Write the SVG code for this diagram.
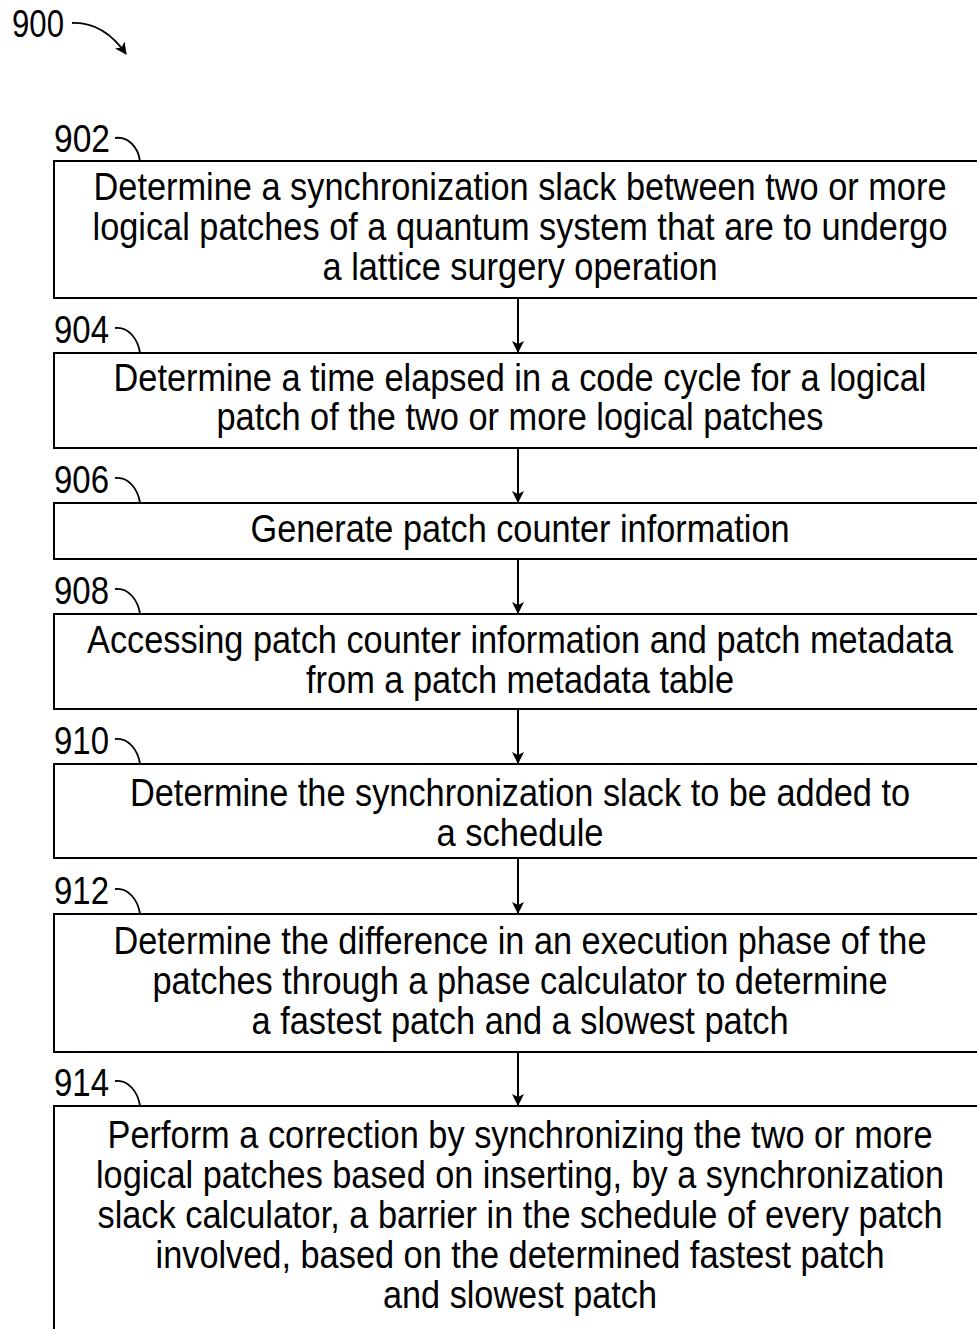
<svg xmlns="http://www.w3.org/2000/svg" width="977" height="1329" viewBox="0 0 977 1329">
  <defs>
    <marker id="arrow" viewBox="0 0 12 12" refX="11" refY="6" markerWidth="12" markerHeight="12" markerUnits="userSpaceOnUse" orient="auto">
      <path d="M0,0 L12,6 L0,12 L3,6 Z" fill="#000"/>
    </marker>
    <style>
      .box { fill: #fff; stroke: #000; stroke-width: 2; }
      .txt { font-family: "Liberation Sans", Arial, sans-serif; font-size: 34px; fill: #000; text-anchor: middle; }
      .ref { font-family: "Liberation Sans", Arial, sans-serif; font-size: 34px; fill: #000; }
      .lead { fill: none; stroke: #000; stroke-width: 1.8; }
      .conn { fill: none; stroke: #000; stroke-width: 2; marker-end: url(#arrow); }
    </style>
  </defs>
  <rect width="977" height="1329" fill="#fff"/>

  <!-- figure number -->
  <g id="fig900">
    <text class="ref" transform="translate(12,37) scale(1,1.12)" textLength="52" lengthAdjust="spacingAndGlyphs">900</text>
    <path class="lead" d="M72,23 C95,22 112,34 126,54" marker-end="url(#arrow)"/>
  </g>

  <!-- connectors between steps -->
  <g id="connectors">
    <line class="conn" x1="518" y1="299" x2="518" y2="352"/>
    <line class="conn" x1="518" y1="448" x2="518" y2="502"/>
    <line class="conn" x1="518" y1="559" x2="518" y2="613"/>
    <line class="conn" x1="518" y1="709" x2="518" y2="763"/>
    <line class="conn" x1="518" y1="858" x2="518" y2="913"/>
    <line class="conn" x1="518" y1="1052" x2="518" y2="1105"/>
  </g>

  <g id="step902">
    <text class="ref" transform="translate(54,152) scale(1,1.12)" textLength="56" lengthAdjust="spacingAndGlyphs">902</text>
    <path class="lead" d="M115,138 C128,136 138,147 140,161"/>
    <rect class="box" x="54" y="161" width="925" height="137"/>
    <text class="txt" transform="translate(520,200) scale(1,1.12)" textLength="853" lengthAdjust="spacingAndGlyphs">Determine a synchronization slack between two or more</text>
    <text class="txt" transform="translate(520,240) scale(1,1.12)" textLength="855" lengthAdjust="spacingAndGlyphs">logical patches of a quantum system that are to undergo</text>
    <text class="txt" transform="translate(520,280) scale(1,1.12)" textLength="395" lengthAdjust="spacingAndGlyphs">a lattice surgery operation</text>
  </g>

  <g id="step904">
    <text class="ref" transform="translate(54,343) scale(1,1.12)" textLength="55" lengthAdjust="spacingAndGlyphs">904</text>
    <path class="lead" d="M115,328 C128,326 138,339 140,353"/>
    <rect class="box" x="54" y="353" width="925" height="95"/>
    <text class="txt" transform="translate(520,391) scale(1,1.12)" textLength="813" lengthAdjust="spacingAndGlyphs">Determine a time elapsed in a code cycle for a logical</text>
    <text class="txt" transform="translate(520,430) scale(1,1.12)" textLength="607" lengthAdjust="spacingAndGlyphs">patch of the two or more logical patches</text>
  </g>

  <g id="step906">
    <text class="ref" transform="translate(54,493) scale(1,1.12)" textLength="55" lengthAdjust="spacingAndGlyphs">906</text>
    <path class="lead" d="M115,478 C128,476 138,489 140,503"/>
    <rect class="box" x="54" y="503" width="925" height="56"/>
    <text class="txt" transform="translate(520,542) scale(1,1.12)" textLength="539" lengthAdjust="spacingAndGlyphs">Generate patch counter information</text>
  </g>

  <g id="step908">
    <text class="ref" transform="translate(54,604) scale(1,1.12)" textLength="55" lengthAdjust="spacingAndGlyphs">908</text>
    <path class="lead" d="M115,589 C128,587 138,600 140,614"/>
    <rect class="box" x="54" y="614" width="925" height="95"/>
    <text class="txt" transform="translate(520,653) scale(1,1.12)" textLength="866" lengthAdjust="spacingAndGlyphs">Accessing patch counter information and patch metadata</text>
    <text class="txt" transform="translate(520,693) scale(1,1.12)" textLength="428" lengthAdjust="spacingAndGlyphs">from a patch metadata table</text>
  </g>

  <g id="step910">
    <text class="ref" transform="translate(54,754) scale(1,1.12)" textLength="55" lengthAdjust="spacingAndGlyphs">910</text>
    <path class="lead" d="M115,739 C128,737 138,750 140,764"/>
    <rect class="box" x="54" y="764" width="925" height="94"/>
    <text class="txt" transform="translate(520,806) scale(1,1.12)" textLength="780" lengthAdjust="spacingAndGlyphs">Determine the synchronization slack to be added to</text>
    <text class="txt" transform="translate(520,846) scale(1,1.12)" textLength="167" lengthAdjust="spacingAndGlyphs">a schedule</text>
  </g>

  <g id="step912">
    <text class="ref" transform="translate(54,904) scale(1,1.12)" textLength="55" lengthAdjust="spacingAndGlyphs">912</text>
    <path class="lead" d="M115,889 C128,887 138,900 140,914"/>
    <rect class="box" x="54" y="914" width="925" height="138"/>
    <text class="txt" transform="translate(520,954) scale(1,1.12)" textLength="813" lengthAdjust="spacingAndGlyphs">Determine the difference in an execution phase of the</text>
    <text class="txt" transform="translate(520,994) scale(1,1.12)" textLength="735" lengthAdjust="spacingAndGlyphs">patches through a phase calculator to determine</text>
    <text class="txt" transform="translate(520,1034) scale(1,1.12)" textLength="537" lengthAdjust="spacingAndGlyphs">a fastest patch and a slowest patch</text>
  </g>

  <g id="step914">
    <text class="ref" transform="translate(54,1096) scale(1,1.12)" textLength="55" lengthAdjust="spacingAndGlyphs">914</text>
    <path class="lead" d="M115,1081 C128,1079 138,1092 140,1106"/>
    <rect class="box" x="54" y="1106" width="925" height="260"/>
    <text class="txt" transform="translate(520,1148) scale(1,1.12)" textLength="825" lengthAdjust="spacingAndGlyphs">Perform a correction by synchronizing the two or more</text>
    <text class="txt" transform="translate(520,1188) scale(1,1.12)" textLength="848" lengthAdjust="spacingAndGlyphs">logical patches based on inserting, by a synchronization</text>
    <text class="txt" transform="translate(520,1228) scale(1,1.12)" textLength="845" lengthAdjust="spacingAndGlyphs">slack calculator, a barrier in the schedule of every patch</text>
    <text class="txt" transform="translate(520,1268) scale(1,1.12)" textLength="729" lengthAdjust="spacingAndGlyphs">involved, based on the determined fastest patch</text>
    <text class="txt" transform="translate(520,1308) scale(1,1.12)" textLength="274" lengthAdjust="spacingAndGlyphs">and slowest patch</text>
  </g>
</svg>
